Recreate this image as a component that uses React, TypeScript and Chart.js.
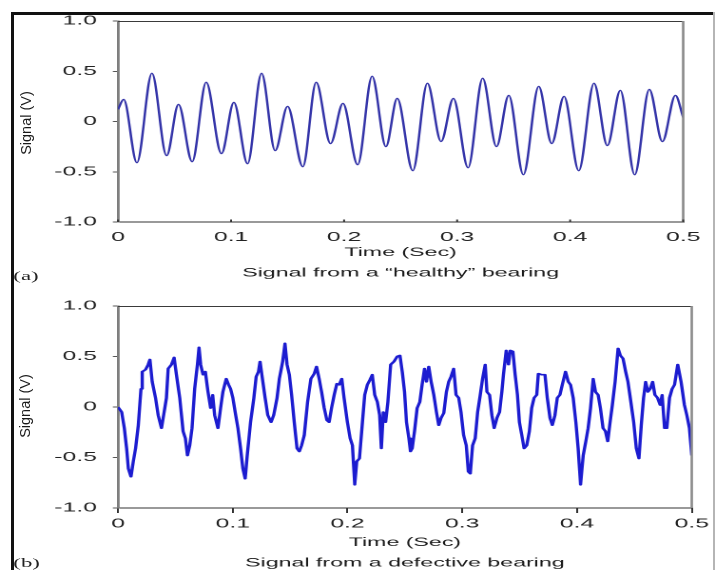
import { useEffect, useRef } from "react";
import { Chart, registerables } from "chart.js";

Chart.register(...registerables);

// The figure is laid out on a narrow canvas and widened horizontally as a whole.
const CANVAS_W = 376;
const STRETCH = 715 / CANVAS_W;

const timeTicks = [0, 0.1, 0.2, 0.3, 0.4, 0.5];
const timeTickLabels = ["0", "0.1", "0.2", "0.3", "0.4", "0.5"];
const signalTicks = [-1, -0.5, 0, 0.5, 1];
const signalTickLabels = ["-1.0", "-0.5", "0", "0.5", "1.0"];

const xTitle = "Time (Sec)";
const yTitle = "Signal (V)";
const healthyCaption = "Signal from a \u201chealthy\u201d bearing";
const defectiveCaption = "Signal from a defective bearing";

// (a) healthy bearing: turning points of the waveform
const healthyTime = [
  0, 0.005, 0.0167, 0.03, 0.043, 0.0535, 0.0656, 0.078, 0.0915, 0.1025,
  0.1146, 0.127, 0.139, 0.15, 0.1635, 0.1753, 0.188, 0.199, 0.212, 0.2248,
  0.237, 0.247, 0.2608, 0.2737, 0.2858, 0.2967, 0.3097, 0.3226, 0.3348, 0.3457,
  0.3586, 0.3722, 0.3837, 0.3946, 0.4076, 0.4211, 0.4329, 0.4444, 0.4571, 0.47,
  0.4816, 0.4931, 0.5,
];
const healthySignal = [
  0.12, 0.22, -0.41, 0.48, -0.34, 0.17, -0.4, 0.39, -0.32, 0.19,
  -0.42, 0.48, -0.29, 0.15, -0.45, 0.39, -0.22, 0.18, -0.43, 0.45,
  -0.25, 0.23, -0.49, 0.38, -0.2, 0.23, -0.46, 0.43, -0.25, 0.26,
  -0.53, 0.35, -0.22, 0.25, -0.49, 0.38, -0.24, 0.31, -0.53, 0.32,
  -0.2, 0.26, 0.04,
];

// (b) defective bearing
const defectiveTime = [
  0, 0.0032, 0.0055, 0.0075, 0.009, 0.0113, 0.0133, 0.0153, 0.0177, 0.02,
  0.0211, 0.024, 0.0263, 0.0278, 0.0298, 0.0327, 0.035, 0.0379, 0.0402, 0.0422,
  0.0437, 0.0466, 0.0489, 0.0509, 0.0538, 0.0567, 0.0587, 0.0605, 0.0625, 0.0645,
  0.0668, 0.0692, 0.0706, 0.072, 0.0741, 0.0761, 0.0784, 0.0807, 0.0825, 0.0842,
  0.0871, 0.0894, 0.0914, 0.0943, 0.0964, 0.0981, 0.1001, 0.1021, 0.1045, 0.1068,
  0.1088, 0.1108, 0.1126, 0.1155, 0.1184, 0.1204, 0.1224, 0.1238, 0.1262, 0.1282,
  0.1305, 0.1334, 0.1357, 0.1386, 0.1406, 0.1435, 0.1455, 0.1473, 0.1493, 0.1513,
  0.1536, 0.156, 0.158, 0.16, 0.1623, 0.1652, 0.1681, 0.171, 0.173, 0.1753,
  0.1774, 0.1797, 0.182, 0.184, 0.1861, 0.1884, 0.1907, 0.1927, 0.195, 0.197,
  0.1999, 0.2023, 0.2043, 0.2063, 0.208, 0.2104, 0.213, 0.215, 0.2173, 0.2196,
  0.2216, 0.2237, 0.226, 0.228, 0.2295, 0.2312, 0.2332, 0.2352, 0.2376, 0.2405,
  0.2433, 0.2457, 0.2477, 0.2497, 0.2514, 0.2535, 0.2549, 0.2564, 0.2584, 0.2607,
  0.263, 0.265, 0.2671, 0.2688, 0.2708, 0.2729, 0.2752, 0.2775, 0.2795, 0.2815,
  0.2839, 0.2862, 0.2882, 0.2902, 0.2925, 0.2946, 0.2969, 0.2989, 0.3012, 0.3035,
  0.3053, 0.307, 0.309, 0.3113, 0.3134, 0.3157, 0.3177, 0.32, 0.3215, 0.3238,
  0.3258, 0.3278, 0.3302, 0.3325, 0.3345, 0.3359, 0.3383, 0.3403, 0.3418, 0.3441,
  0.3461, 0.3481, 0.3498, 0.3519, 0.3539, 0.3562, 0.3585, 0.3605, 0.3626, 0.3649,
  0.3663, 0.3692, 0.3721, 0.3741, 0.3765, 0.3785, 0.3808, 0.3828, 0.3851, 0.3874,
  0.39, 0.3924, 0.3944, 0.3967, 0.399, 0.401, 0.4031, 0.4054, 0.4077, 0.4097,
  0.4118, 0.4141, 0.4161, 0.4184, 0.4204, 0.4227, 0.4248, 0.4268, 0.4285, 0.4308,
  0.4332, 0.4358, 0.4378, 0.4401, 0.4424, 0.4444, 0.4473, 0.4494, 0.4517, 0.454,
  0.456, 0.458, 0.4598, 0.4618, 0.4638, 0.4659, 0.4679, 0.4702, 0.4725, 0.4742,
  0.4763, 0.4783, 0.4806, 0.4829, 0.485, 0.4878, 0.4907, 0.4936, 0.4957, 0.498,
  0.5,
];
const defectiveSignal = [
  0, -0.05, -0.21, -0.41, -0.61, -0.69, -0.54, -0.41, -0.18, 0.18,
  0.35, 0.37, 0.42, 0.47, 0.25, 0.09, -0.08, -0.21, -0.05, 0.09,
  0.38, 0.42, 0.49, 0.32, 0.09, -0.24, -0.31, -0.48, -0.38, -0.21,
  0.18, 0.42, 0.59, 0.42, 0.32, 0.35, 0.15, -0.01, 0.12, -0.08,
  -0.21, -0.01, 0.15, 0.28, 0.22, 0.18, 0.09, -0.05, -0.21, -0.41,
  -0.61, -0.71, -0.48, -0.15, 0.09, 0.3, 0.35, 0.45, 0.25, 0.09,
  -0.08, -0.15, -0.08, 0.09, 0.28, 0.45, 0.63, 0.42, 0.32, 0.12,
  -0.15, -0.41, -0.44, -0.38, -0.28, 0.05, 0.28, 0.33, 0.4, 0.28,
  0.15, -0.01, -0.13, -0.15, -0.01, 0.12, 0.23, 0.22, 0.28, 0.09,
  -0.15, -0.31, -0.38, -0.77, -0.54, -0.51, -0.15, 0.12, 0.22, 0.27,
  0.32, 0.12, 0.05, -0.08, -0.41, -0.05, -0.15, 0.05, 0.42, 0.45,
  0.5, 0.51, 0.35, 0.15, -0.15, -0.31, -0.44, -0.41, -0.24, -0.01,
  0.05, 0.22, 0.38, 0.25, 0.4, 0.25, 0.12, -0.05, -0.18, -0.11,
  -0.06, 0.15, 0.25, 0.3, 0.38, 0.12, 0.09, -0.05, -0.28, -0.38,
  -0.64, -0.66, -0.38, -0.31, -0.05, 0.12, 0.28, 0.42, 0.15, 0.12,
  -0.08, -0.21, -0.11, -0.05, 0.15, 0.32, 0.56, 0.42, 0.56, 0.55,
  0.32, 0.12, -0.15, -0.28, -0.41, -0.38, -0.24, -0.01, 0.09, 0.12,
  0.33, 0.32, 0.32, 0.09, -0.11, -0.18, -0.08, 0.09, 0.12, 0.23,
  0.35, 0.25, 0.22, 0.09, -0.15, -0.41, -0.77, -0.48, -0.34, -0.21,
  -0.01, 0.28, 0.15, 0.12, -0.01, -0.21, -0.24, -0.34, -0.18, 0.02,
  0.25, 0.58, 0.51, 0.48, 0.35, 0.25, 0.02, -0.15, -0.41, -0.51,
  -0.18, 0.09, 0.25, 0.15, 0.18, 0.25, 0.12, 0.09, 0.02, 0.12,
  -0.21, -0.21, 0.09, 0.18, 0.22, 0.42, 0.25, 0.02, -0.08, -0.21,
  -0.48,
];

const SANS = '"Liberation Sans", Arial, Helvetica, sans-serif';

// Top and right edges of the plot box, plus optional inward x ticks.
const framePlugin = {
  id: "frame",
  afterDraw(chart: any, _args: any, opts: any) {
    const { ctx, chartArea: a } = chart;
    ctx.save();
    ctx.strokeStyle = "#3a3a3a";
    ctx.lineWidth = 1;
    ctx.beginPath();
    ctx.moveTo(a.left, a.top + 0.5);
    ctx.lineTo(a.right, a.top + 0.5);
    ctx.stroke();
    ctx.strokeStyle = "#8a8a8a";
    ctx.lineWidth = 1.3;
    ctx.beginPath();
    ctx.moveTo(a.right, a.top);
    ctx.lineTo(a.right, a.bottom);
    ctx.stroke();
    if (opts && opts.innerTicks) {
      const xs = chart.scales.x;
      ctx.strokeStyle = "#333";
      ctx.lineWidth = 1;
      xs.ticks.forEach((t: any) => {
        const px = xs.getPixelForValue(t.value);
        ctx.beginPath();
        ctx.moveTo(px, a.bottom);
        ctx.lineTo(px, a.bottom - 2.5);
        ctx.stroke();
      });
    }
    ctx.restore();
  },
};

type Panel = {
  time: number[];
  signal: number[];
  caption: string;
  color: string;
  width: number;
  smooth: boolean;
  padTop: number;
  padRight: number;
  xAxisHeight: number;
  innerTicks: boolean;
  xLabelPad: number;
};

function panelConfig(p: Panel): any {
  return {
    type: "line",
    data: {
      datasets: [
        {
          data: p.time.map((t, i) => ({ x: t, y: p.signal[i] })),
          borderColor: p.color,
          borderWidth: p.width,
          pointRadius: 0,
          fill: false,
          tension: p.smooth ? 0.4 : 0,
          cubicInterpolationMode: p.smooth ? "monotone" : "default",
          borderJoinStyle: "round",
        },
      ],
    },
    options: {
      responsive: false,
      animation: false,
      devicePixelRatio: 2,
      events: [],
      layout: { padding: { top: p.padTop, right: p.padRight, left: 0, bottom: 0 } },
      plugins: {
        legend: { display: false },
        tooltip: { enabled: false },
        frame: { innerTicks: p.innerTicks },
      },
      scales: {
        x: {
          type: "linear",
          min: 0,
          max: 0.5,
          afterBuildTicks: (s: any) => {
            s.ticks = timeTicks.map((v) => ({ value: v }));
          },
          afterFit: (s: any) => {
            s.height = p.xAxisHeight;
          },
          ticks: {
            autoSkip: false,
            maxRotation: 0,
            padding: p.xLabelPad,
            color: "#222",
            font: { family: SANS, size: 13 },
            callback: (_v: any, i: number) => timeTickLabels[i],
          },
          grid: {
            drawOnChartArea: false,
            drawTicks: !p.innerTicks,
            tickLength: 5,
            tickColor: "#333",
            tickWidth: 1,
          },
          border: { color: "#333", width: 1 },
          title: {
            display: true,
            text: [xTitle, p.caption],
            color: "#1a1a1a",
            padding: 0,
            font: { family: SANS, size: 12.2, lineHeight: 1.65 },
          },
        },
        y: {
          type: "linear",
          min: -1,
          max: 1,
          afterBuildTicks: (s: any) => {
            s.ticks = signalTicks.map((v) => ({ value: v }));
          },
          afterFit: (s: any) => {
            s.width = 118 / STRETCH;
          },
          ticks: {
            padding: 8.4,
            color: "#222",
            font: { family: SANS, size: 13 },
            callback: (_v: any, i: number) => signalTickLabels[i],
          },
          grid: {
            drawOnChartArea: false,
            drawTicks: true,
            tickLength: 2.7,
            tickColor: "#555",
          },
          border: { color: "#7d7d7d", width: 1.4 },
        },
      },
    },
    plugins: [framePlugin],
  };
}

const healthyPanel: Panel = {
  time: healthyTime,
  signal: healthySignal,
  caption: healthyCaption,
  color: "#3333a8",
  width: 1.25,
  smooth: true,
  padTop: 21,
  padRight: CANVAS_W - 697 / STRETCH,
  xAxisHeight: 283 - 222,
  innerTicks: true,
  xLabelPad: 7.7,
};

const defectivePanel: Panel = {
  time: defectiveTime,
  signal: defectiveSignal,
  caption: defectiveCaption,
  color: "#1c1cd0",
  width: 1.7,
  smooth: false,
  padTop: 306 - 283,
  padRight: CANVAS_W - 694 / STRETCH,
  xAxisHeight: 290 - (508 - 283),
  innerTicks: false,
  xLabelPad: 3.2,
};

const yTitleStyle = (cx: number, cy: number): any => ({
  position: "absolute",
  left: cx,
  top: cy,
  transform: "translate(-50%, -50%) rotate(-90deg)",
  font: `14.5px ${SANS}`,
  color: "#1a1a1a",
  whiteSpace: "nowrap",
  lineHeight: 1,
});

const panelTagStyle = (top: number): any => ({
  position: "absolute",
  left: 7,
  top,
  font: '12px "Liberation Serif", "Times New Roman", serif',
  lineHeight: "14px",
  color: "#222",
  whiteSpace: "nowrap",
});

export default function App() {
  const refA = useRef<HTMLCanvasElement>(null);
  const refB = useRef<HTMLCanvasElement>(null);

  useEffect(() => {
    const a = new Chart(refA.current as HTMLCanvasElement, panelConfig(healthyPanel));
    const b = new Chart(refB.current as HTMLCanvasElement, panelConfig(defectivePanel));
    return () => {
      a.destroy();
      b.destroy();
    };
  }, []);

  return (
    <div
      style={{
        position: "absolute",
        left: 0,
        top: 0,
        width: 715,
        height: 570,
        overflow: "hidden",
        background: "#fff",
      }}
    >
      <div
        style={{
          position: "absolute",
          left: 0,
          top: 0,
          width: CANVAS_W,
          height: 570,
          transform: `scaleX(${STRETCH})`,
          transformOrigin: "0 0",
        }}
      >
        <canvas ref={refA} width={CANVAS_W} height={283} style={{ position: "absolute", left: 0, top: 0 }} />
        <canvas ref={refB} width={CANVAS_W} height={290} style={{ position: "absolute", left: 0, top: 283 }} />
        <span style={panelTagStyle(269)}>(a)</span>
        <span style={panelTagStyle(556)}>(b)</span>
      </div>
      <div style={yTitleStyle(26, 123)}>{yTitle}</div>
      <div style={yTitleStyle(25, 406)}>{yTitle}</div>
      <div style={{ position: "absolute", left: 11, top: 12, width: 2.5, height: 558, background: "#111" }} />
      <div style={{ position: "absolute", left: 11, top: 12, width: 704, height: 2.5, background: "#111" }} />
      <div style={{ position: "absolute", left: 713, top: 12, width: 1.5, height: 558, background: "#b5b5b5" }} />
    </div>
  );
}
